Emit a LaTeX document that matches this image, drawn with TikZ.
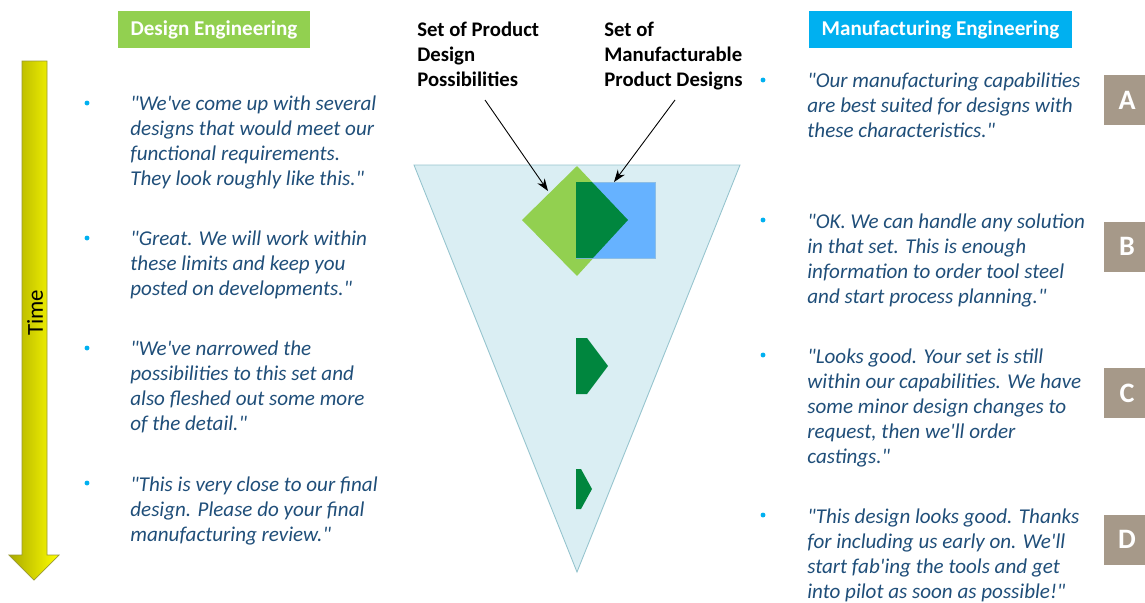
\documentclass[tikz,border=0pt]{standalone}
\usepackage{fontspec}
\setmainfont{Carlito}[Ligatures=TeXOff]
\usetikzlibrary{arrows.meta}
\definecolor{designgreen}{RGB}{146,208,80}
\definecolor{mfgblue}{RGB}{0,176,240}
\definecolor{quoteblue}{RGB}{31,78,121}
\definecolor{funnelfill}{RGB}{218,238,243}
\definecolor{funneledge}{RGB}{150,196,206}
\definecolor{setblue}{RGB}{102,178,255}
\definecolor{setedge}{RGB}{140,190,230}
\definecolor{overlapgreen}{RGB}{0,134,62}
\definecolor{stagegray}{RGB}{166,153,137}
\definecolor{timeolive}{RGB}{170,170,0}
\definecolor{timeyellow}{RGB}{255,255,0}
\tikzset{
  header/.style={fill=#1,text=white,font=\bfseries\fontsize{12}{14}\selectfont,minimum height=0.74cm,inner sep=0},
  quote/.style={text=quoteblue,font=\itshape\fontsize{12}{14.2}\selectfont,align=left,anchor=base west,inner sep=0},
  bulletdot/.style={circle,fill=mfgblue,inner sep=0,minimum size=2.8pt},
  stage/.style={fill=stagegray,text=white,font=\bfseries\fontsize{16}{18}\selectfont,minimum width=0.92cm,minimum height=1cm,inner sep=0},
  setlabel/.style={font=\bfseries\fontsize{11.8}{14.2}\selectfont,align=left,anchor=base west,inner sep=0},
  pointer/.style={-{Stealth[length=7pt,width=5pt]},line width=0.5pt}
}
\begin{document}
\begin{tikzpicture}[x=0.02cm,y=-0.02cm]
\useasboundingbox (0,0) rectangle (1145,602);

\node[header=designgreen,minimum width=3.84cm] (design) at (214,29.5) {Design Engineering};
\node[header=mfgblue,minimum width=5.26cm] (mfg) at (940.5,29.5) {Manufacturing Engineering};

\shade[left color=timeolive,right color=timeyellow,draw=timeolive!60!gray,line width=0.4pt]
  (22,61) -- (47,61) -- (47,555) -- (59,555) -- (34,580) -- (9,555) -- (22,555) -- cycle;
\node[rotate=90,font=\fontsize{13}{15}\selectfont] (time) at (35,313) {Time};

\node[bulletdot] (db1) at (87,103) {};
\node[quote] (dq1) at (130,185) {"We've come up with several\\designs that would meet our\\functional requirements.\\They look roughly like this."};
\node[bulletdot] (db2) at (87,238) {};
\node[quote] (dq2) at (130,295) {"Great. We will work within\\these limits and keep you\\posted on developments."};
\node[bulletdot] (db3) at (87,348) {};
\node[quote] (dq3) at (130,430) {"We've narrowed the\\possibilities to this set and\\also fleshed out some more\\of the detail."};
\node[bulletdot] (db4) at (87,483) {};
\node[quote] (dq4) at (130,541) {"This is very close to our final\\design. Please do your final\\manufacturing review."};

\node[bulletdot] (mb1) at (763,80) {};
\node[quote] (mq1) at (807,137) {"Our manufacturing capabilities\\are best suited for designs with\\these characteristics."};
\node[bulletdot] (mb2) at (763,220) {};
\node[quote] (mq2) at (807,303) {"OK. We can handle any solution\\in that set. This is enough\\information to order tool steel\\and start process planning."};
\node[bulletdot] (mb3) at (763,355) {};
\node[quote] (mq3) at (807,463) {"Looks good. Your set is still\\within our capabilities. We have\\some minor design changes to\\request, then we'll order\\castings."};
\node[bulletdot] (mb4) at (763,515) {};
\node[quote] (mq4) at (807,598) {"This design looks good. Thanks\\for including us early on. We'll\\start fab'ing the tools and get\\into pilot as soon as possible!"};

\node[stage] (stA) at (1127,100) {A};
\node[stage] (stB) at (1127,246.5) {B};
\node[stage] (stC) at (1127,393) {C};
\node[stage] (stD) at (1127,539.5) {D};

\draw[fill=funnelfill,draw=funneledge,line width=0.5pt] (414,165) -- (740,165) -- (577,572) -- cycle;
\fill[designgreen] (577,166) -- (628,220) -- (577,276) -- (522,220) -- cycle;
\filldraw[fill=setblue,draw=setedge,line width=0.4pt] (576,182) rectangle (655,258);
\fill[overlapgreen] (576,182) -- (592,182) -- (628,220) -- (593,258) -- (576,258) -- cycle;
\fill[overlapgreen] (576,338) -- (587,338) -- (608,366) -- (587,394) -- (576,394) -- cycle;
\fill[overlapgreen] (576,469) -- (581,469) -- (592,489) -- (581,509) -- (576,509) -- cycle;

\node[setlabel] (prodset) at (417,86) {Set of Product\\Design\\Possibilities};
\node[setlabel] (mfgset) at (604,86) {Set of\\Manufacturable\\Product Designs};
\coordinate (prodfoot) at (485,100);
\coordinate (prodtip) at (548,191);
\coordinate (mfgfoot) at (675,100);
\coordinate (mfgtip) at (614,182);
\draw[pointer] (prodfoot) -- (prodtip);
\draw[pointer] (mfgfoot) -- (mfgtip);
\end{tikzpicture}
\end{document}
